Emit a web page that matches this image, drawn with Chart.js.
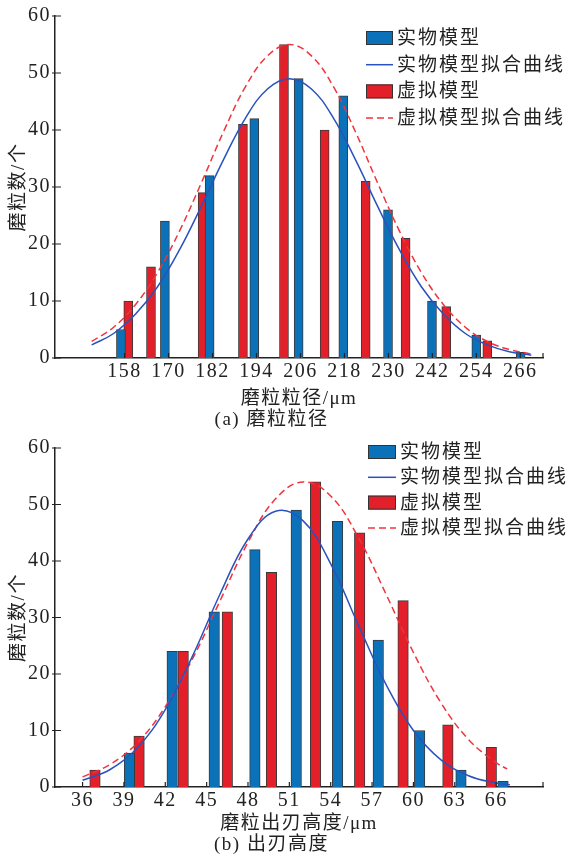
<!DOCTYPE html>
<html>
<head>
<meta charset="utf-8">
<script src="https://cdn.jsdelivr.net/npm/chart.js@4/dist/chart.umd.min.js"></script>
<style>
  body { margin: 0; background: #fff; }
  canvas { display: block; }
</style>
</head>
<body>
<canvas id="chart_a" width="570" height="432"></canvas>
<canvas id="chart_b" width="570" height="427"></canvas>
<script>
/*==================== 数据 (a) 磨粒粒径 ====================*/
const ticksA = [158, 170, 182, 194, 206, 218, 230, 242, 254, 266];
const realXA = [157, 169, 181.2, 193.4, 205.5, 217.7, 229.9, 241.9, 254, 266.1];
const realYA = [5, 24, 32, 42, 49, 46, 26, 10, 4, 1];
const virtXA = [159, 165.2, 179.3, 190.3, 201.5, 212.6, 223.8, 234.7, 245.8, 257];
const virtYA = [10, 16, 29, 41, 55, 40, 31, 21, 9, 3];
// 拟合曲线
const fitXA = [149, 155, 161, 167, 173, 179, 185, 191, 197, 203, 209, 215, 221, 227, 233, 239, 245, 251, 257, 263, 269];
const realFitA = [2.3, 4.3, 7.7, 12.5, 19.0, 26.7, 34.8, 42.1, 47.2, 49, 47.2, 42.1, 34.8, 26.7, 19.0, 12.5, 7.7, 4.3, 2.3, 1.1, 0.5];
const virtFitA = [2.9, 5.4, 9.4, 15.0, 22.3, 30.8, 39.7, 47.6, 53.0, 55, 53.0, 47.6, 39.7, 30.8, 22.3, 15.0, 9.4, 5.4, 2.9, 1.5, 0.7];

/*==================== 数据 (b) 出刃高度 ====================*/
const ticksB = [36, 39, 42, 45, 48, 51, 54, 57, 60, 63, 66];
const realXB = [39.4, 42.5, 45.55, 48.5, 51.5, 54.5, 57.45, 60.45, 63.45, 66.5];
const realYB = [6, 24, 31, 42, 49, 47, 26, 10, 3, 1];
const virtXB = [36.9, 40.1, 43.3, 46.5, 49.7, 52.9, 56.1, 59.25, 62.5, 65.65];
const virtYB = [3, 9, 24, 31, 38, 54, 45, 33, 11, 7];
const realFitXB = [36, 38, 40, 42, 44, 46, 48, 50, 52, 54, 56, 58, 60, 62, 64, 66, 67];
const realFitB = [1.2, 3.1, 7.0, 13.7, 23.3, 34.3, 43.9, 48.8, 47.1, 39.5, 28.7, 18.2, 10.0, 4.8, 2.0, 0.7, 0.4];
const virtFitXB = [36, 38, 40, 42, 44, 46, 48, 50, 52, 54, 56, 58, 60, 62, 64, 66, 66.8];
const virtFitB = [1.8, 4.0, 7.9, 14.2, 22.8, 33.1, 43.3, 51.0, 54.0, 51.5, 44.2, 34.2, 23.8, 14.9, 8.4, 4.3, 3.2];

const yTicks = [0, 10, 20, 30, 40, 50, 60];

const BLUE = '#0b72ba';
const RED = '#e3202a';
const BLUE_LINE = '#2a52be';
const RED_LINE = '#f0343c';
const INK = '#222';

Chart.defaults.font.family = '"Liberation Serif", "Noto Sans CJK SC", serif';
Chart.defaults.font.size = 19;
Chart.defaults.color = INK;

const pts = (xs, ys) => xs.map((x, i) => ({x: x, y: ys[i]}));

// 字距
const spacing = {
    id: 'spacing',
    beforeDraw(chart) { chart.ctx.letterSpacing = '1.5px'; }
};

// 向内的刻度线
const tickMarks = {
    id: 'tickMarks',
    afterDraw(chart) {
        const {ctx, chartArea, scales: {x, y}} = chart;
        ctx.save();
        ctx.strokeStyle = INK;
        ctx.lineWidth = 1.2;
        ctx.beginPath();
        x.ticks.forEach(t => {
            const px = x.getPixelForValue(t.value);
            ctx.moveTo(px, chartArea.bottom);
            ctx.lineTo(px, chartArea.bottom - 5);
        });
        ctx.moveTo(chartArea.right, chartArea.bottom);
        ctx.lineTo(chartArea.right, chartArea.bottom - 5);
        y.ticks.forEach(t => {
            const py = y.getPixelForValue(t.value);
            ctx.moveTo(chartArea.left - 3, py);
            ctx.lineTo(chartArea.left + 6, py);
        });
        ctx.stroke();
        ctx.restore();
    }
};

// 图例
const boxLegend = {
    id: 'boxLegend',
    afterDraw(chart, args, opts) {
        const ctx = chart.ctx;
        ctx.save();
        ctx.font = '19px "Liberation Serif", "Noto Sans CJK SC", serif';
        ctx.letterSpacing = '2px';
        ctx.textBaseline = 'middle';
        chart.data.datasets.forEach((ds, i) => {
            const yc = opts.y + i * opts.gap;
            if (ds.type === 'line') {
                ctx.strokeStyle = ds.borderColor;
                ctx.lineWidth = 1.5;
                ctx.setLineDash(ds.borderDash || []);
                ctx.beginPath();
                ctx.moveTo(opts.x, yc);
                ctx.lineTo(opts.x + opts.w, yc);
                ctx.stroke();
                ctx.setLineDash([]);
            } else {
                ctx.fillStyle = ds.backgroundColor;
                ctx.fillRect(opts.x, yc - 7, opts.w, 14);
                ctx.strokeStyle = '#333';
                ctx.lineWidth = 1;
                ctx.strokeRect(opts.x + 0.5, yc - 6.5, opts.w - 1, 13);
            }
            ctx.fillStyle = INK;
            ctx.fillText(ds.label, opts.x + opts.w + 4, yc + 1);
        });
        ctx.restore();
    }
};

function makeChart(id, cfg) {
    return new Chart(document.getElementById(id), {
        type: 'bar',
        data: {
            datasets: [{
                label: '实物模型',
                data: pts(cfg.realX, cfg.realY),
                backgroundColor: BLUE,
                borderColor: '#3a3a3a',
                borderWidth: 1,
                barThickness: cfg.bar,
                grouped: false,
                order: 2
            }, {
                type: 'line',
                label: '实物模型拟合曲线',
                data: pts(cfg.fitX1, cfg.fit1),
                borderColor: BLUE_LINE,
                borderWidth: 1.5,
                pointRadius: 0,
                tension: 0.4,
                fill: false,
                order: 0
            }, {
                label: '虚拟模型',
                data: pts(cfg.virtX, cfg.virtY),
                backgroundColor: RED,
                borderColor: '#3a3a3a',
                borderWidth: 1,
                barThickness: cfg.bar,
                grouped: false,
                order: 2
            }, {
                type: 'line',
                label: '虚拟模型拟合曲线',
                data: pts(cfg.fitX2, cfg.fit2),
                borderColor: RED_LINE,
                borderWidth: 1.5,
                borderDash: [7, 4],
                pointRadius: 0,
                tension: 0.4,
                fill: false,
                order: 1
            }]
        },
        options: {
            responsive: false,
            animation: false,
            layout: { padding: { top: cfg.padTop, right: 27, left: 0, bottom: 0 } },
            scales: {
                x: {
                    type: 'linear',
                    offset: false,
                    min: cfg.min,
                    max: cfg.max,
                    afterBuildTicks: s => { s.ticks = cfg.ticks.map(v => ({value: v})); },
                    afterFit: s => { s.height = cfg.xH; },
                    grid: { display: false, drawTicks: false },
                    border: { display: true, color: INK, width: 1.5 },
                    ticks: { autoSkip: false, maxRotation: 0, padding: 2, font: { size: 20 } },
                    title: { display: true, text: cfg.xTitle, padding: { top: 0, bottom: 0 } }
                },
                y: {
                    min: 0,
                    max: 60,
                    afterBuildTicks: s => { s.ticks = yTicks.map(v => ({value: v})); },
                    afterFit: s => { s.width = 55; },
                    grid: { display: false, drawTicks: false },
                    border: { display: true, color: INK, width: 1.5 },
                    ticks: { padding: 4, font: { size: 20 } },
                    title: { display: true, text: '磨粒数/个', padding: { top: 8, bottom: 0 } }
                }
            },
            plugins: {
                legend: { display: false },
                tooltip: { enabled: false },
                title: {
                    display: true,
                    position: 'bottom',
                    text: cfg.caption,
                    color: INK,
                    font: { size: 19, weight: 'normal', lineHeight: 1 },
                    padding: cfg.capPad
                },
                boxLegend: cfg.legend
            }
        },
        plugins: [spacing, tickMarks, boxLegend]
    });
}

const chart_a = makeChart('chart_a', {
    realX: realXA, realY: realYA, virtX: virtXA, virtY: virtYA,
    fitX1: fitXA, fit1: realFitA, fitX2: fitXA, fit2: virtFitA,
    ticks: ticksA, min: 139, max: 272.2, bar: 9,
    padTop: 14, xH: 52, capPad: { top: 1, bottom: 2 },
    xTitle: '磨粒粒径/μm', caption: '(a) 磨粒粒径',
    legend: { x: 366, y: 38, gap: 26.7, w: 27 }
});

const chart_b = makeChart('chart_b', {
    realX: realXB, realY: realYB, virtX: virtXB, virtY: virtYB,
    fitX1: realFitXB, fit1: realFitB, fitX2: virtFitXB, fit2: virtFitB,
    ticks: ticksB, min: 34, max: 69.4, bar: 10.5,
    padTop: 9.7, xH: 48, capPad: { top: 1, bottom: 4 },
    xTitle: '磨粒出刃高度/μm', caption: '(b) 出刃高度',
    legend: { x: 368, y: 20, gap: 25.3, w: 28 }
});
</script>
</body>
</html>
